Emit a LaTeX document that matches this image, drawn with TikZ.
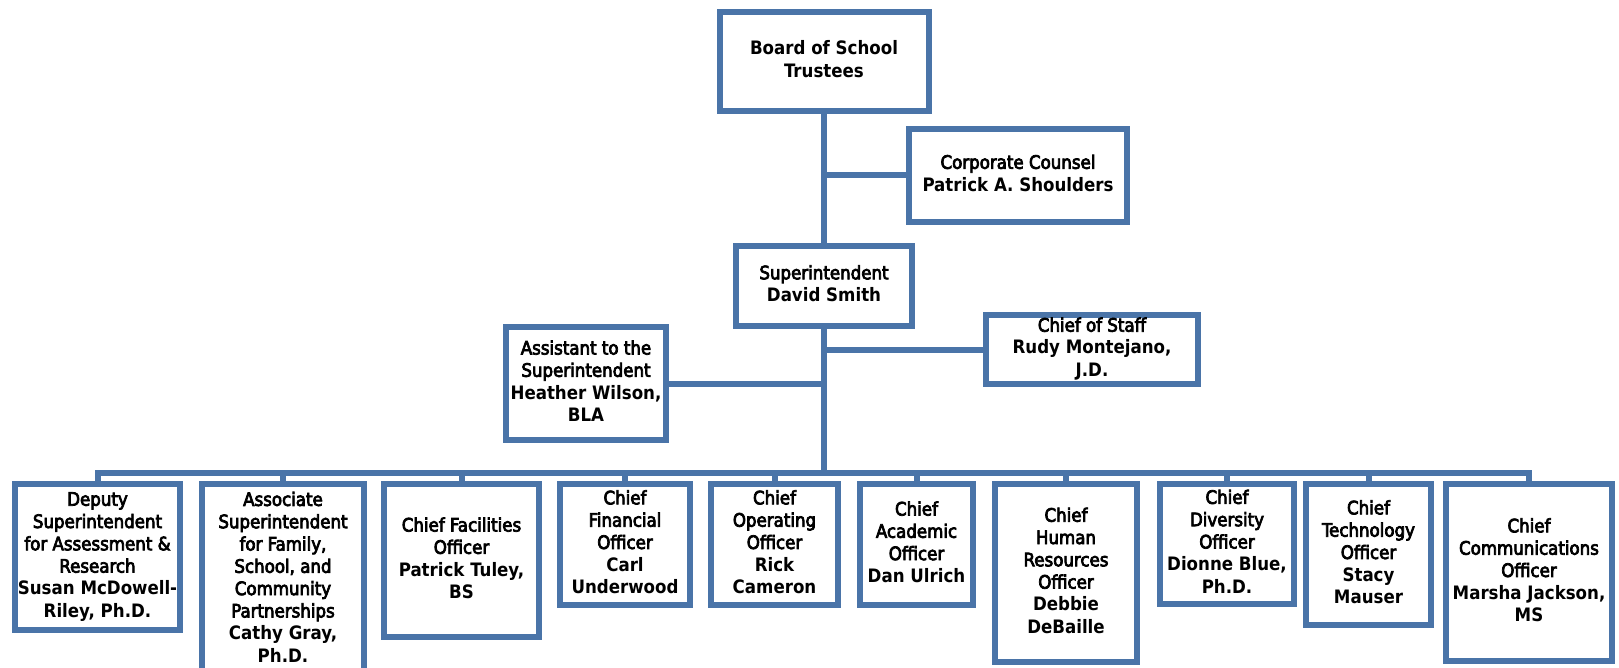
\documentclass[tikz,border=0pt]{standalone}
\usepackage{fontspec}
\setmainfont{DejaVu Sans Condensed}
\newfontfamily\titlefont{DejaVu Sans Condensed}[FakeBold=4]
\newfontfamily\namefont{DejaVu Sans Condensed Bold}
\newcommand{\ttl}[1]{{\titlefont #1}}
\newcommand{\nm}[1]{{\namefont #1}}
\newcommand{\boxlines}[1]{\makebox[0pt][c]{\begin{tabular}{@{}c@{}}#1\end{tabular}}}
\definecolor{ob}{HTML}{4A74A8}
\tikzset{
  orgbox/.style={draw=ob, line width=6pt, fill=white, inner sep=0pt, outer sep=0pt,
    font=\fontsize{18.5}{22.3}\selectfont},
  link/.style={draw=ob, line width=6pt}
}
\begin{document}
\begin{tikzpicture}[x=1pt,y=-1pt]
\useasboundingbox (0,0) rectangle (1619,668);
\clip (0,0) rectangle (1619,668);
\coordinate (bus) at (824,473);
% top
\node[orgbox, minimum width=209pt, minimum height=99pt] (board) at (824,61.5)
  {\boxlines{\nm{Board of School}\\\nm{Trustees}}};
\node[orgbox, minimum width=218pt, minimum height=93pt] (corp) at (1018,175.5)
  {\boxlines{\ttl{Corporate Counsel}\\\nm{Patrick A. Shoulders}}};
\node[orgbox, minimum width=176pt, minimum height=80pt] (sup) at (824,286)
  {\boxlines{\ttl{Superintendent}\\\nm{David Smith}}};
\node[orgbox, minimum width=160pt, minimum height=113pt] (asst) at (586,383.5)
  {\boxlines{\ttl{Assistant to the}\\\ttl{Superintendent}\\\nm{Heather Wilson,}\\\nm{BLA}}};
\node[orgbox, minimum width=212pt, minimum height=69pt] (cos) at (1092,349.5)
  {\boxlines{\ttl{Chief of Staff}\\\nm{Rudy Montejano,}\\\nm{J.D.}}};
% bottom row
\node[orgbox, minimum width=165pt, minimum height=146pt] (deputy) at (97.5,557)
  {\boxlines{\ttl{Deputy}\\\ttl{Superintendent}\\\ttl{for Assessment \&}\\\ttl{Research}\\\nm{Susan McDowell-}\\\nm{Riley, Ph.D.}}};
\node[orgbox, minimum width=162pt, minimum height=191pt] (assoc) at (283,579.5)
  {\boxlines{\ttl{Associate}\\\ttl{Superintendent}\\\ttl{for Family,}\\\ttl{School, and}\\\ttl{Community}\\\ttl{Partnerships}\\\nm{Cathy Gray,}\\\nm{Ph.D.}}};
\node[orgbox, minimum width=155pt, minimum height=153pt] (fac) at (461.5,560.5)
  {\boxlines{\ttl{Chief Facilities}\\\ttl{Officer}\\\nm{Patrick Tuley,}\\\nm{BS}}};
\node[orgbox, minimum width=130pt, minimum height=121pt] (cfo) at (625,544.5)
  {\boxlines{\ttl{Chief}\\\ttl{Financial}\\\ttl{Officer}\\\nm{Carl}\\\nm{Underwood}}};
\node[orgbox, minimum width=127pt, minimum height=121pt] (coo) at (774.5,544.5)
  {\boxlines{\ttl{Chief}\\\ttl{Operating}\\\ttl{Officer}\\\nm{Rick}\\\nm{Cameron}}};
\node[orgbox, minimum width=113pt, minimum height=121pt] (cao) at (916.5,544.5)
  {\boxlines{\ttl{Chief}\\\ttl{Academic}\\\ttl{Officer}\\\nm{Dan Ulrich}}};
\node[orgbox, minimum width=142pt, minimum height=178pt] (chro) at (1066,573)
  {\boxlines{\ttl{Chief}\\\ttl{Human}\\\ttl{Resources}\\\ttl{Officer}\\\nm{Debbie}\\\nm{DeBaille}}};
\node[orgbox, minimum width=134pt, minimum height=120pt] (divers) at (1227,544)
  {\boxlines{\ttl{Chief}\\\ttl{Diversity}\\\ttl{Officer}\\\nm{Dionne Blue,}\\\nm{Ph.D.}}};
\node[orgbox, minimum width=125pt, minimum height=141pt] (tech) at (1368.5,554.5)
  {\boxlines{\ttl{Chief}\\\ttl{Technology}\\\ttl{Officer}\\\nm{Stacy}\\\nm{Mauser}}};
\node[orgbox, minimum width=166pt, minimum height=177pt] (comm) at (1529,572.5)
  {\boxlines{\ttl{Chief}\\\ttl{Communications}\\\ttl{Officer}\\\nm{Marsha Jackson,}\\\nm{MS}}};
% connectors
\draw[link] (board.south) -- (board.south |- sup.north);
\draw[link] (corp.west) -- (corp.west -| board.south);
\draw[link] (sup.south) -- (bus);
\draw[link] (asst.east) -- (asst.east -| sup.south);
\draw[link] (cos.west) -- (cos.west -| sup.south);
\draw[link] (deputy.north) |- (bus) -| (comm.north);
\foreach \n in {assoc,fac,cfo,coo,cao,chro,divers,tech}
  \draw[link] (\n.north) -- (\n.north |- bus);
\end{tikzpicture}
\end{document}
